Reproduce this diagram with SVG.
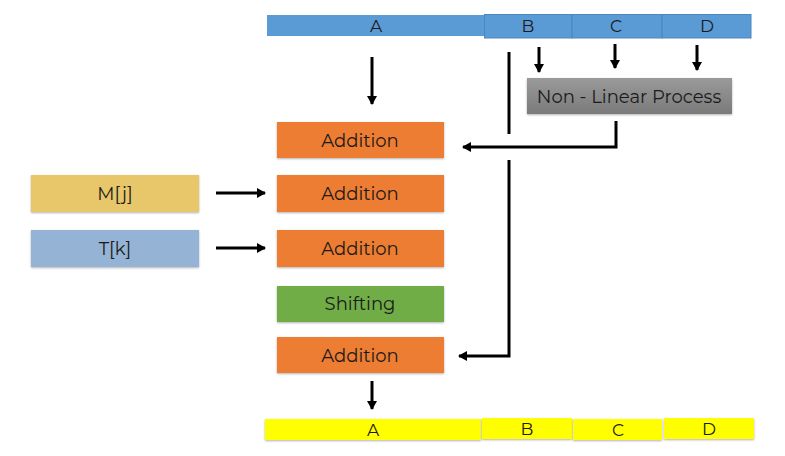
<svg xmlns="http://www.w3.org/2000/svg" width="785" height="456" viewBox="0 0 785 456">
<defs>
<marker id="ah" markerWidth="10" markerHeight="10" refX="8" refY="5" orient="auto" markerUnits="userSpaceOnUse">
<path d="M0,0 L9,5 L0,10 Z" fill="#000"/>
</marker>
<linearGradient id="gray" x1="0" y1="0" x2="0" y2="1">
<stop offset="0" stop-color="#9a9a9a"/>
<stop offset="1" stop-color="#7a7a7a"/>
</linearGradient>
<filter id="sh" x="-10%" y="-20%" width="120%" height="150%">
<feDropShadow dx="0" dy="1" stdDeviation="1.2" flood-color="#000" flood-opacity="0.3"/>
</filter>
</defs>
<style>
text{font-family:"Montserrat","Open Sans","Liberation Sans",sans-serif;font-size:18px;fill:#1a1a1a;text-anchor:middle;dominant-baseline:central}
.bar text{font-size:17px}
.blue{fill:#5b9bd5}
.seg{stroke:#4a86bf;stroke-width:1}
.yel{fill:#ffff00}
.org{fill:#ed7d31}
.grn{fill:#70ad47}
.c{stroke:#000;stroke-width:3;fill:none}
</style>
<g id="top-bar" class="bar">
<rect class="blue" x="267" y="15" width="217" height="21"/><text x="376" y="26">A</text>
<rect class="blue seg" x="484.5" y="14.5" width="87.5" height="23.5"/><text x="528" y="26">B</text>
<rect class="blue seg" x="572" y="14.5" width="90" height="23.5"/><text x="616" y="26">C</text>
<rect class="blue seg" x="662" y="14.5" width="89" height="23.5"/><text x="707" y="26">D</text>
</g>
<g id="nlp"><rect x="527" y="78" width="205" height="36" fill="url(#gray)" filter="url(#sh)"/><text x="629" y="97">Non - Linear Process</text></g>
<g id="add1"><rect class="org" x="277" y="122" width="167" height="36" filter="url(#sh)"/><text x="360" y="141">Addition</text></g>
<g id="add2"><rect class="org" x="277" y="175" width="167" height="37" filter="url(#sh)"/><text x="360" y="194">Addition</text></g>
<g id="add3"><rect class="org" x="277" y="230" width="167" height="37" filter="url(#sh)"/><text x="360" y="249">Addition</text></g>
<g id="shift"><rect class="grn" x="277" y="286" width="167" height="36" filter="url(#sh)"/><text x="360" y="304">Shifting</text></g>
<g id="add4"><rect class="org" x="277" y="337" width="167" height="36" filter="url(#sh)"/><text x="360" y="356">Addition</text></g>
<g id="mj"><rect x="31" y="175" width="168" height="37" fill="#e7c76a" filter="url(#sh)"/><text x="115" y="194">M[j]</text></g>
<g id="tk"><rect x="31" y="230" width="168" height="37" fill="#95b3d5" filter="url(#sh)"/><text x="115" y="249">T[k]</text></g>
<g id="bottom-bar" class="bar">
<rect class="yel" x="265" y="419" width="216" height="21" filter="url(#sh)"/><text x="373" y="430">A</text>
<rect class="yel" x="482" y="418" width="90" height="21" filter="url(#sh)"/><text x="527" y="429">B</text>
<rect class="yel" x="573" y="419" width="89" height="21" filter="url(#sh)"/><text x="618" y="430">C</text>
<rect class="yel" x="664" y="418" width="90" height="21" filter="url(#sh)"/><text x="709" y="429">D</text>
</g>
<g id="connectors">
<line class="c" x1="372" y1="57" x2="372" y2="104" marker-end="url(#ah)"/>
<line class="c" x1="539" y1="47" x2="539" y2="72" marker-end="url(#ah)"/>
<line class="c" x1="615" y1="44" x2="615" y2="68" marker-end="url(#ah)"/>
<line class="c" x1="697" y1="45" x2="697" y2="70" marker-end="url(#ah)"/>
<line class="c" x1="509" y1="52" x2="509" y2="134"/>
<polyline class="c" points="616,121 616,147 463,147" marker-end="url(#ah)"/>
<polyline class="c" points="509,160 509,356 459,356" marker-end="url(#ah)"/>
<line class="c" x1="216" y1="193" x2="265" y2="193" marker-end="url(#ah)"/>
<line class="c" x1="216" y1="248" x2="265" y2="248" marker-end="url(#ah)"/>
<line class="c" x1="372" y1="381" x2="372" y2="409" marker-end="url(#ah)"/>
</g>
</svg>
